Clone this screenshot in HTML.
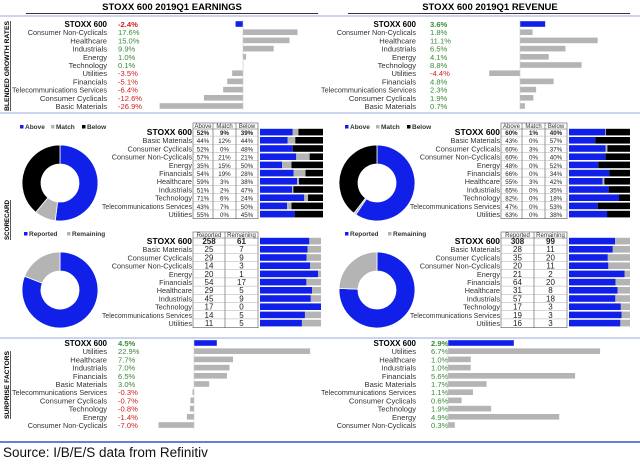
<!DOCTYPE html>
<html><head><meta charset="utf-8"><style>
body{margin:0;background:#fff;width:640px;height:460px;overflow:hidden;font-family:"Liberation Sans",Arial,sans-serif}
svg text{font-family:"Liberation Sans",Arial,sans-serif}
</style></head><body>
<svg id="s" width="640" height="460" viewBox="0 0 640 460" xmlns="http://www.w3.org/2000/svg">
<text x="172" y="10" font-size="9.5" font-weight="bold" text-anchor="middle">STOXX 600 2019Q1 EARNINGS</text>
<text x="490" y="10" font-size="9.5" font-weight="bold" text-anchor="middle">STOXX 600 2019Q1 REVENUE</text>
<line x1="26" y1="13.5" x2="318" y2="13.5" stroke="#333"/>
<line x1="348" y1="13.5" x2="630" y2="13.5" stroke="#333"/>
<line x1="0" y1="16" x2="640" y2="16" stroke="#99a8e0"/>
<line x1="0" y1="113" x2="640" y2="113" stroke="#99a8e0"/>
<line x1="0" y1="338" x2="640" y2="338" stroke="#99a8e0"/>
<line x1="0" y1="442" x2="640" y2="442" stroke="#3355cc" stroke-width="1.5"/>
<text x="9" y="66" font-size="6.5" font-weight="bold" text-anchor="middle" textLength="90" lengthAdjust="spacingAndGlyphs" transform="rotate(-90 9 66)" text-decoration="underline">BLENDED GROWTH RATES</text>
<text x="9" y="220" font-size="6.5" font-weight="bold" text-anchor="middle" textLength="40" lengthAdjust="spacingAndGlyphs" transform="rotate(-90 9 220)" text-decoration="underline">SCORECARD</text>
<text x="9" y="385" font-size="6.5" font-weight="bold" text-anchor="middle" textLength="68" lengthAdjust="spacingAndGlyphs" transform="rotate(-90 9 385)" text-decoration="underline">SURPRISE FACTORS</text>
<text x="3" y="457" font-size="13.5" fill="#111">Source: I/B/E/S data from Refinitiv</text>
<g id="g"></g>
</svg>
<script>
// ---- data ----
const earnGrowthCats=["STOXX 600","Consumer Non-Cyclicals","Healthcare","Industrials","Energy","Technology","Utilities","Financials","Telecommunications Services","Consumer Cyclicals","Basic Materials"];
const earnGrowthVals=[-2.4,17.6,15.0,9.9,1.0,0.1,-3.5,-5.1,-6.4,-12.6,-26.9];
const revGrowthCats=["STOXX 600","Consumer Non-Cyclicals","Healthcare","Industrials","Energy","Technology","Utilities","Financials","Telecommunications Services","Consumer Cyclicals","Basic Materials"];
const revGrowthVals=[3.6,1.8,11.1,6.5,4.1,8.8,-4.4,4.8,2.3,1.9,0.7];
const scoreCats=["STOXX 600","Basic Materials","Consumer Cyclicals","Consumer Non-Cyclicals","Energy","Financials","Healthcare","Industrials","Technology","Telecommunications Services","Utilities"];
const earnAbove=[52,44,52,57,35,54,59,51,71,43,55];
const earnMatch=[9,12,0,21,15,19,3,2,6,7,0];
const earnBelow=[39,44,48,21,50,28,38,47,24,50,45];
const revAbove=[60,43,60,60,48,66,55,65,82,47,63];
const revMatch=[1,0,3,0,0,0,3,0,0,0,0];
const revBelow=[40,57,37,40,52,34,42,35,18,53,38];
const earnReported=[258,25,29,14,20,54,29,45,17,14,11];
const earnRemaining=[61,7,9,3,1,17,5,9,0,5,5];
const revReported=[308,28,35,20,21,64,31,57,17,19,16];
const revRemaining=[99,11,20,11,2,20,8,18,3,3,3];
const earnSurpCats=["STOXX 600","Utilities","Healthcare","Industrials","Financials","Basic Materials","Telecommunications Services","Consumer Cyclicals","Technology","Energy","Consumer Non-Cyclicals"];
const earnSurpVals=[4.5,22.9,7.7,7.0,6.5,3.0,-0.3,-0.7,-0.8,-1.4,-7.0];
const revSurpCats=["STOXX 600","Utilities","Healthcare","Industrials","Financials","Basic Materials","Telecommunications Services","Consumer Cyclicals","Technology","Energy","Consumer Non-Cyclicals"];
const revSurpVals=[2.9,6.7,1.0,1.0,5.6,1.7,1.1,0.6,1.9,4.9,0.3];

const NS="http://www.w3.org/2000/svg";
const G=document.getElementById('g');
function mk(tag,attrs,txt){const e=document.createElementNS(NS,tag);for(const k in attrs)e.setAttribute(k,attrs[k]);if(txt!==undefined)e.textContent=txt;G.appendChild(e);return e;}
const BLUE="#1020e8",GREY="#b4b4b4",RED="#d02020",GREEN="#3a8a3a";
function fitLabel(t,c,labX){
  if(c.length>20){t.setAttribute('textLength',c.length>24?95:Math.min(80,c.length*3.6));t.setAttribute('lengthAdjust','spacingAndGlyphs');}
}
function growth(cats,vals,labX,valX,zero,scale,y0,dy,prefix){
  cats.forEach((c,i)=>{
    const y=y0+i*dy;
    const t=mk('text',{x:labX,y:y+3,'font-size':i?7.6:8,'text-anchor':'end',fill:i?'#333':'#000','font-weight':i?'normal':'bold'},c);
    
    
    fitLabel(t,c,labX);
    const v=vals[i];
    const vt=mk('text',{x:valX,y:y+3,'font-size':7.6,fill:v<0?RED:GREEN,'font-weight':i?'normal':'bold'},v.toFixed(1)+'%');
    
    
    const x1=zero+Math.min(0,v)*scale,w=Math.abs(v)*scale;
    const b=mk('rect',{x:x1,y:y-2.8,width:w,height:5.6,fill:i?GREY:BLUE});
    
    
  });
  const ax=mk('line',{x1:zero,x2:zero,y1:y0-4,y2:y0+(cats.length-1)*dy+4,stroke:'#ccc','stroke-width':0.6});
  
  
}
growth(earnGrowthCats,earnGrowthVals,107,118,243,3.1,24,8.2,'earnings-growth');
growth(revGrowthCats,revGrowthVals,416,430,520,7.0,24,8.2,'revenue-growth');
growth(earnSurpCats,earnSurpVals,107,118,194,5.07,343,8.2,'earnings-surprise');
growth(revSurpCats,revSurpVals,416,431,448,22.7,343,8.2,'revenue-surprise');

function donut(cx,cy,vals,colors,prefix){
  const tot=vals.reduce((a,b)=>a+b,0);let a=0;const R=38,r=19;
  vals.forEach((v,i)=>{
    const a0=a/tot*2*Math.PI,a1=(a+v)/tot*2*Math.PI;a+=v;
    if(v<=0)return;
    const p=(ang,rr)=>[cx+rr*Math.sin(ang),cy-rr*Math.cos(ang)];
    const lg=(a1-a0)>Math.PI?1:0;
    const [x0,y0]=p(a0,R),[x1,y1]=p(a1,R),[x2,y2]=p(a1,r),[x3,y3]=p(a0,r);
    const d=`M${x0},${y0}A${R},${R} 0 ${lg} 1 ${x1},${y1}L${x2},${y2}A${r},${r} 0 ${lg} 0 ${x3},${y3}Z`;
    const s=mk('path',{d,fill:colors[i],stroke:'#fff','stroke-width':0.8});
    
    
  });
}
function legend(x,y,items,colors,prefix){
  let cx=x;
  items.forEach((t,i)=>{
    const r=mk('rect',{x:cx,y:y-4,width:3.5,height:3.5,fill:colors[i]});
    
    
    const tx=mk('text',{x:cx+5,y:y,'font-size':6.5,'font-weight':'bold',fill:'#333'},t);
    
    
    cx+=5+t.length*4+6;
  });
}
function table(labX,cols,heads,colVals,y0,dy,prefix,fs,fmt){
  const top=y0-9,bot=y0+(scoreCats.length)*dy-3.5;
  const fr=mk('rect',{x:cols[0],y:top,width:cols[cols.length-1]-cols[0],height:bot-top,fill:'none',stroke:'#555','stroke-width':0.6});
  
  
  const hl=mk('line',{x1:cols[0],x2:cols[cols.length-1],y1:y0-3,y2:y0-3,stroke:'#555','stroke-width':0.6});
  
  
  for(let j=1;j<cols.length-1;j++){const l=mk('line',{x1:cols[j],x2:cols[j],y1:top,y2:bot,stroke:'#555','stroke-width':0.6});
    
    }
  heads.forEach((h,j)=>{const t=mk('text',{x:(cols[j]+cols[j+1])/2,y:y0-4,'font-size':6,'text-anchor':'middle',fill:'#333'},h);
    
    });
  scoreCats.forEach((c,i)=>{
    const y=y0+i*dy;
    const t=mk('text',{x:labX,y:y+3,'font-size':i?7.3:8.5,'text-anchor':'end',fill:i?'#333':'#000','font-weight':i?'normal':'bold'},c);
    
    
    if(c.length>24){t.setAttribute('textLength',90);t.setAttribute('lengthAdjust','spacingAndGlyphs');}
    if(i){const rl=mk('line',{x1:cols[0],x2:cols[cols.length-1],y1:y-4.1,y2:y-4.1,stroke:'#999','stroke-width':0.4});
      
      }
    colVals.forEach((arr,j)=>{
      const v=mk('text',{x:(cols[j]+cols[j+1])/2,y:y+3,'font-size':fs,'text-anchor':'middle',fill:'#222','font-weight':i?'normal':'bold'},arr[i]+fmt);
      
      
    });
  });
}
function stacked(x0,w,series,colors,y0,dy,prefix){
  scoreCats.forEach((c,i)=>{
    const tot=series.reduce((a,s)=>a+s[i],0);let x=x0;
    series.forEach((s,j)=>{
      const bw=s[i]/tot*w;
      const r=mk('rect',{x,y:y0+i*dy-3.2,width:bw,height:6.6,fill:colors[j]});
      
      
      x+=bw;
    });
  });
}
const c3=[BLUE,GREY,"#000"],c2=[BLUE,GREY];
legend(20,129,["Above","Match","Below"],c3,'earnings-beat');
donut(60,183,[earnAbove[0],earnMatch[0],earnBelow[0]],c3,'earnings-beat-donut');
table(192,[193,213,236,258],["Above","Match","Below"],[earnAbove,earnMatch,earnBelow],132,8.2,'earnings-beat',6.2,'%');
stacked(260,63,[earnAbove,earnMatch,earnBelow],c3,132,8.2,'earnings-beat');
legend(24,236,["Reported","Remaining"],c2,'earnings-reported');
donut(60,290,[earnReported[0],earnRemaining[0]],c2,'earnings-reported-donut');
table(192,[193,225,258],["Reported","Remaining"],[earnReported,earnRemaining],241,8.2,'earnings-reported',8,'');
stacked(260,61,[earnReported,earnRemaining],c2,241,8.2,'earnings-reported');
legend(345,129,["Above","Match","Below"],c3,'revenue-beat');
donut(377,183,[revAbove[0],revMatch[0],revBelow[0]],c3,'revenue-beat-donut');
table(500,[501,522,545,567],["Above","Match","Below"],[revAbove,revMatch,revBelow],132,8.2,'revenue-beat',6.2,'%');
stacked(569,61,[revAbove,revMatch,revBelow],c3,132,8.2,'revenue-beat');
legend(345,236,["Reported","Remaining"],c2,'revenue-reported');
donut(377,290,[revReported[0],revRemaining[0]],c2,'revenue-reported-donut');
table(500,[501,534,567],["Reported","Remaining"],[revReported,revRemaining],241,8.2,'revenue-reported',8,'');
stacked(569,61,[revReported,revRemaining],c2,241,8.2,'revenue-reported');
</script>
</body></html>
